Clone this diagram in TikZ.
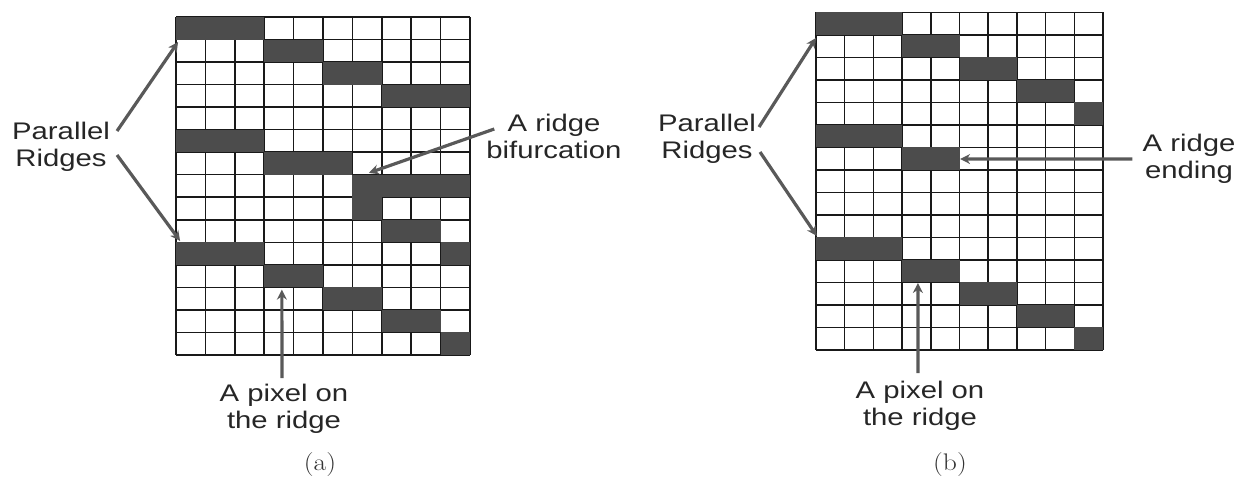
\documentclass[tikz,border=0pt]{standalone}
\usepackage{fontspec}
\newfontfamily\lblfont[FakeStretch=1.22]{Liberation Sans}
\usetikzlibrary{arrows.meta}
\tikzset{
cell/.style={fill=black!70},
gridline/.style={line width=1.5pt, black!90},
ptr/.style={line width=3.2pt, black!65, -{Stealth[length=10pt,width=10pt]}},
lbl/.style={align=center, text=black!85, inner sep=2pt, font=\lblfont\fontsize{24}{27}\selectfont},
sub/.style={text=black!80, font=\fontsize{24}{28}\selectfont}
}

\begin{document}
\begin{tikzpicture}[x=1pt,y=-1pt]
    \useasboundingbox (0,0) rectangle (1239,480);

                \begin{scope}[shift={(176,17)},x=29.4pt,y=-22.53pt]
                \foreach \i in {0,...,10} \draw[gridline] (\i,0) -- (\i,15);
                \foreach \j in {0,...,15} \draw[gridline] (0,\j) -- (10,\j);
                \foreach \r/\a/\b in {0/0/2,1/3/4,2/5/6,3/7/9,5/0/2,6/3/5,7/6/9,8/6/6,9/7/8,10/0/2,10/9/9,11/3/4,12/5/6,13/7/8,14/9/9}
                    \fill[cell] (\a,\r) rectangle (\b+1,\r+1);
                \coordinate (topA) at (0.07,1.11);
                \coordinate (lowA) at (0.14,9.94);
                \coordinate (forkA) at (6.56,6.92);
                \coordinate (dotA) at (3.6,12.1);
                \end{scope}

                \begin{scope}[shift={(816,12.3)},x=28.7pt,y=-22.5pt]
                \foreach \i in {0,...,10} \draw[gridline] (\i,0) -- (\i,15);
                \foreach \j in {0,...,15} \draw[gridline] (0,\j) -- (10,\j);
                \foreach \r/\a/\b in {0/0/2,1/3/4,2/5/6,3/7/8,4/9/9,5/0/2,6/3/4,10/0/2,11/3/4,12/5/6,13/7/8,14/9/9}
                    \fill[cell] (\a,\r) rectangle (\b+1,\r+1);
                \coordinate (topB) at (0,1.14);
                \coordinate (lowB) at (0.03,9.94);
                \coordinate (stopB) at (5.02,6.52);
                \coordinate (dotB) at (3.55,12.03);
                \end{scope}

                \node[lbl] (parA) at (61,147) {Parallel\\Ridges};
                \node[lbl] (forkTxt) at (554,136) {A ridge\\bifurcation};
                \node[lbl] (pixA) at (284,409) {A pixel on\\the ridge};
                \node[sub] (capA) at (320,465) {\scalebox{1.15}[1]{(a)}};

                \node[lbl] (parB) at (707,139) {Parallel\\Ridges};
                \node[lbl] (stopTxt) at (1189,159) {A ridge\\ending};
                \node[lbl] (pixB) at (920,406) {A pixel on\\the ridge};
                \node[sub] (capB) at (950,465) {\scalebox{1.15}[1]{(b)}};

                \draw[ptr] ([shift={(5,-16)}]parA.east) -- (topA);
                \draw[ptr] ([shift={(5,8)}]parA.east) -- (lowA);
                \draw[ptr] ([shift={(10,-7)}]forkTxt.west) -- (forkA);
                \draw[ptr] ([shift={(-2,-4)}]pixA.north) -- (dotA);

                \draw[ptr] ([shift={(1,-12)}]parB.east) -- (topB);
                \draw[ptr] ([shift={(2,13)}]parB.east) -- (lowB);
                \draw[ptr] ([shift={(-8,0)}]stopTxt.west) -- (stopB);
                \draw[ptr] ([shift={(-2,-6)}]pixB.north) -- (dotB);

            \end{tikzpicture}
\end{document}
